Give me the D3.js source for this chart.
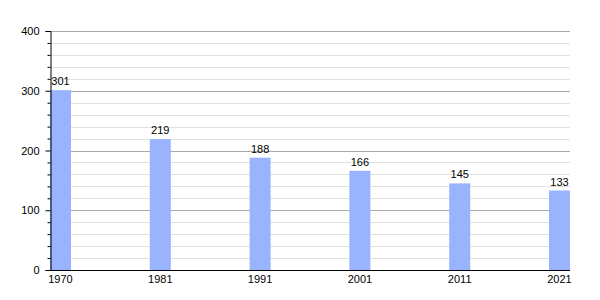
<!DOCTYPE html>
<html><head><meta charset="utf-8">
<script src="https://cdn.jsdelivr.net/npm/d3@7"></script>
<style>body{margin:0;background:#fff}svg{display:block}text{font-family:"Liberation Sans",Arial,sans-serif;font-size:11px;fill:#000}</style>
</head><body>
<svg id="c" width="600" height="300"></svg>
<script>
const years = ["1970","1981","1991","2001","2011","2021"];
const population = [301,219,188,166,145,133];
const yMajorTicks = [0,100,200,300,400];

(function(){
const svg = d3.select("#c");
const mLeft = 50, mRight = 570, mTop = 31, mBottom = 270;
const y = d3.scaleLinear().domain([0,400]).range([mBottom, mTop]);
const barW = 21;
const x = d3.scaleLinear().domain([0, years.length-1]).range([mLeft, mRight-barW]);

const minor = d3.range(0, 401, 20).filter(v => v % 100 !== 0);
svg.append("g").selectAll("line").data(minor).join("line")
  .attr("x1", mLeft).attr("x2", mRight)
  .attr("y1", d => Math.round(y(d))+0.5).attr("y2", d => Math.round(y(d))+0.5)
  .attr("stroke", "#e0e0e0").attr("stroke-width", 1);
svg.append("g").selectAll("line").data(yMajorTicks.filter(v=>v>0)).join("line")
  .attr("x1", mLeft).attr("x2", mRight)
  .attr("y1", d => Math.round(y(d))+0.5).attr("y2", d => Math.round(y(d))+0.5)
  .attr("stroke", "#aaaaaa").attr("stroke-width", 1);

svg.append("g").selectAll("rect").data(population).join("rect")
  .attr("x", (d,i) => x(i)).attr("width", barW)
  .attr("y", d => y(d)).attr("height", d => mBottom - y(d))
  .attr("fill", "#99b3ff");

svg.append("g").selectAll("text").data(population).join("text")
  .attr("x", (d,i) => x(i) + barW/2).attr("y", d => y(d) - 5)
  .attr("text-anchor", "middle").text(d => d);

const ya = svg.append("g").attr("transform", `translate(${mLeft+0.5},0)`)
  .call(d3.axisLeft(y).tickValues(yMajorTicks).tickSize(5).tickPadding(6).tickFormat(d3.format("d")));
ya.select(".domain").attr("stroke","#000");
ya.selectAll(".tick line").attr("stroke","#000");
ya.selectAll(".tick text").style("font-family","Liberation Sans, Arial, sans-serif").style("font-size","11px").attr("fill","#000");
svg.append("g").attr("transform", `translate(${mLeft+0.5},0)`)
  .call(d3.axisLeft(y).tickValues(minor).tickSize(3).tickFormat(""))
  .call(g => g.select(".domain").remove())
  .selectAll(".tick line").attr("stroke","#000");

svg.append("line").attr("x1", mLeft).attr("x2", mRight)
  .attr("y1", mBottom+0.5).attr("y2", mBottom+0.5).attr("stroke","#000");
svg.append("g").selectAll("text").data(years).join("text")
  .attr("x", (d,i) => x(i) + barW/2).attr("y", mBottom + 13)
  .attr("text-anchor","middle").text(d => d);
})();
</script>
</body></html>
